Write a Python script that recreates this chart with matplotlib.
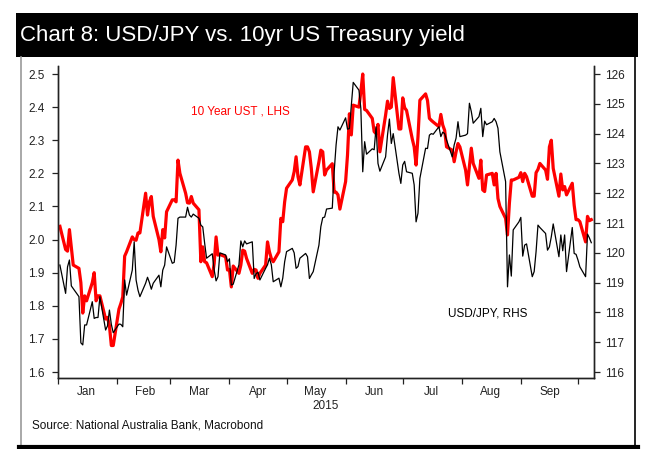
import numpy as np
import pandas as pd
import matplotlib
matplotlib.use("Agg")
from matplotlib import pyplot as plt
from matplotlib import dates as mdates
from matplotlib.patches import Rectangle
from matplotlib.lines import Line2D

# 10 year US Treasury yield (LHS), business days from 2 Jan 2015
ust = [
	2.04, 1.97, 1.965, 2.03, 1.978, 1.923, 1.913, 1.87, 1.778, 1.83, 1.815, 1.87, 1.90, 1.815, 1.83,
	1.83, 1.76, 1.765, 1.74, 1.68, 1.68, 1.79, 1.807, 1.827, 1.95, 1.963, 2.008, 2.0, 1.998, 2.02,
	2.02, 2.14, 2.074,
	2.114, 2.13, 2.07, 2.0, 1.963, 2.03, 2.005, 2.084, 2.12, 2.12, 2.114, 2.24, 2.2, 2.14, 2.111,
	2.11, 2.13, 2.11, 2.09, 1.933, 1.978, 1.933, 1.93, 1.888, 1.928, 2.008, 1.953, 1.955, 1.948, 1.908,
	1.91, 1.857, 1.92, 1.898,
	1.923, 1.968, 1.965, 1.943, 1.898, 1.91, 1.908, 1.883, 1.898, 1.923, 1.993, 1.963, 1.943, 1.933,
	1.963, 2.064, 2.054, 2.114, 2.155, 2.18, 2.205, 2.25, 2.19, 2.165, 2.28, 2.28, 2.265, 2.215, 2.144,
	2.235, 2.27, 2.265, 2.195, 2.21,
	2.229, 2.143, 2.143, 2.135, 2.092, 2.175, 2.255, 2.38, 2.316, 2.406, 2.40, 2.447, 2.50, 2.393, 2.39,
	2.366, 2.326, 2.32, 2.348, 2.265, 2.376, 2.418, 2.396, 2.40, 2.489, 2.334, 2.334, 2.428, 2.398, 2.39,
	2.304, 2.28, 2.225, 2.31,
	2.421, 2.44, 2.42, 2.366, 2.36, 2.355, 2.341, 2.378, 2.346, 2.33, 2.28, 2.27, 2.235, 2.265, 2.29,
	2.28, 2.21, 2.165, 2.22, 2.276, 2.23, 2.185, 2.24, 2.15, 2.145, 2.195, 2.20, 2.165, 2.20, 2.124,
	2.10, 2.064, 2.014,
	2.11, 2.18, 2.18, 2.188, 2.202, 2.175, 2.20, 2.19, 2.131, 2.131, 2.202, 2.212, 2.23, 2.21, 2.182,
	2.28, 2.30, 2.215, 2.131, 2.198, 2.15, 2.16, 2.135, 2.17, 2.104, 2.06, 2.06, 2.054, 1.993, 2.07,
	2.057, 2.06,
]

# USD/JPY (RHS), same dates
usdjpy = [
	119.59, 118.64, 119.53, 119.76, 118.89, 118.8, 118.53, 116.98, 116.91, 117.58, 117.58, 118.36,
	117.80, 117.83, 117.83, 118.53, 117.41, 117.55, 118.08, 117.6, 117.32, 117.61, 117.6, 117.52,
	119.09, 118.58, 119.42, 120.37, 119.09, 118.75, 118.53, 118.98, 119.18,
	119.0, 118.78, 118.98, 119.25, 118.86, 119.42, 119.59, 120.2, 119.65, 119.68, 120.26, 121.16,
	121.2, 121.2, 121.53, 121.27, 121.2, 121.3, 121.16, 120.93, 120.87, 120.32, 119.82, 119.97,
	119.42, 119.06, 119.2, 120.0, 119.93, 119.7, 119.8, 118.92, 118.95, 119.6,
	120.40, 120.2, 120.4, 120.3, 120.37, 119.14, 119.3, 119.35, 119.09, 119.48, 119.6, 119.82,
	119.6, 119.03, 119.15, 118.86, 119.15, 119.7, 120.04, 120.15, 120.0, 119.48, 119.54, 119.82,
	119.98, 119.87, 119.14, 119.26, 119.37, 120.26, 120.88, 121.18, 121.2, 121.47,
	121.5, 122.72, 123.62, 124.23, 124.12, 124.53, 124.15, 124.17, 124.96, 125.72, 125.46, 124.85,
	122.72, 123.73, 123.31, 123.49, 123.46, 124.23, 123.0, 122.74, 123.22, 123.95, 124.49, 123.67,
	124.0, 122.67, 122.33, 122.95, 123.07, 122.72, 122.67, 122.28, 121.04, 121.33,
	122.5, 123.51, 123.5, 123.95, 124.0, 123.98, 124.23, 123.9, 124.05, 124.0, 123.79, 123.22,
	123.62, 123.85, 124.4, 123.9, 123.95, 124.0, 125.02, 124.74, 124.35, 124.57, 124.85, 123.9,
	124.42, 124.3, 124.4, 124.51, 124.4, 124.18, 123.39, 122.39, 118.86,
	119.93, 119.22, 120.77, 121.04, 121.19, 119.89, 120.26, 120.3, 119.2, 119.37, 120.04, 120.93,
	120.85, 120.65, 120.09, 120.2, 120.54, 120.97, 119.87, 120.6, 120.07, 120.6, 119.37, 120.85,
	119.98, 119.95, 119.76, 119.53, 119.2, 120.63, 120.5, 120.34,
]

dates = pd.bdate_range("2015-01-02", periods=len(ust))

left_ticks = [1.6, 1.7, 1.8, 1.9, 2.0, 2.1, 2.2, 2.3, 2.4, 2.5]
right_ticks = [116, 117, 118, 119, 120, 121, 122, 123, 124, 125, 126]

title = "Chart 8: USD/JPY vs. 10yr US Treasury yield"
source = "Source: National Australia Bank, Macrobond"

W, H = 658, 449
font = ['Liberation Sans', 'DejaVu Sans']
font_size = 8.5
plt.rcParams['font.family'] = font

fig = plt.figure(figsize=(W / 100, H / 100), dpi=100)

# frame and title bar, in pixel units
bg = fig.add_axes([0, 0, 1, 1], zorder=0)
bg.set_xlim(0, W)
bg.set_ylim(H, 0)
bg.axis('off')
bg.add_patch(Rectangle((16, 13), 622, 44, facecolor='black', edgecolor='none'))
bg.text(20, 36, title, color='white', fontsize=16, va='center', ha='left')
bg.add_line(Line2D([20.5, 20.5], [57, 446], color='#9a9a9a', lw=1.2))
bg.add_line(Line2D([635, 635], [57, 446], color='black', lw=1.2))
bg.add_line(Line2D([19, 638], [446.5, 446.5], color='black', lw=3))
bg.text(32, 426, source, fontsize=font_size, va='center', ha='left', color='#111111')

# main chart
l, r, t, b = 58, 594, 66, 378
ax = fig.add_axes([l / W, 1 - b / H, (r - l) / W, (b - t) / H], zorder=1)
ax.patch.set_alpha(0)
ax2 = ax.twinx()

ax.plot(dates, ust, color='#ff0000', lw=2.3, solid_joinstyle='round', zorder=2)
ax2.plot(dates, usdjpy, color='black', lw=0.9, zorder=3)

ax.set_ylim(1.5819, 2.5242)
ax2.set_ylim(115.80, 126.27)
ax.set_yticks(left_ticks)
ax.set_yticklabels(['%.1f' % v for v in left_ticks])
ax2.set_yticks(right_ticks)
ax2.set_yticklabels([str(v) for v in right_ticks])

ax.set_xlim(pd.Timestamp("2015-01-01"), pd.Timestamp("2015-10-09 10:00"))
ax.xaxis.set_major_locator(mdates.MonthLocator())
ax.xaxis.set_major_formatter(plt.NullFormatter())
ax.xaxis.set_minor_locator(mdates.MonthLocator(bymonth=range(1, 10), bymonthday=16))
ax.xaxis.set_minor_formatter(mdates.DateFormatter('%b'))

for a in (ax, ax2):
	a.spines['top'].set_visible(False)
	for s in ('left', 'right', 'bottom'):
		a.spines[s].set_color('#222222')
		a.spines[s].set_linewidth(1.0)

ax.tick_params(axis='y', direction='out', length=4.5, width=0.9, pad=5, labelsize=font_size, colors='#222222')
ax2.tick_params(axis='y', direction='out', length=4.5, width=0.9, pad=3.5, labelsize=font_size, colors='#222222')
ax.tick_params(axis='x', which='major', direction='out', length=4, width=0.9, color='#222222')
ax.tick_params(axis='x', which='minor', length=0, pad=6, labelsize=font_size, labelcolor='#222222')

ax.text(0.5, -0.07, "2015", transform=ax.transAxes, ha='center', va='top', fontsize=font_size, color='#222222')

ax.text(0.248, 0.853, "10 Year UST , LHS", transform=ax.transAxes, color='#ff0000',
	fontsize=font_size, ha='left', va='center')
ax.text(0.728, 0.208, "USD/JPY, RHS", transform=ax.transAxes, color='black',
	fontsize=font_size, ha='left', va='center')

fig.savefig('out.png', dpi=100, facecolor='white')
